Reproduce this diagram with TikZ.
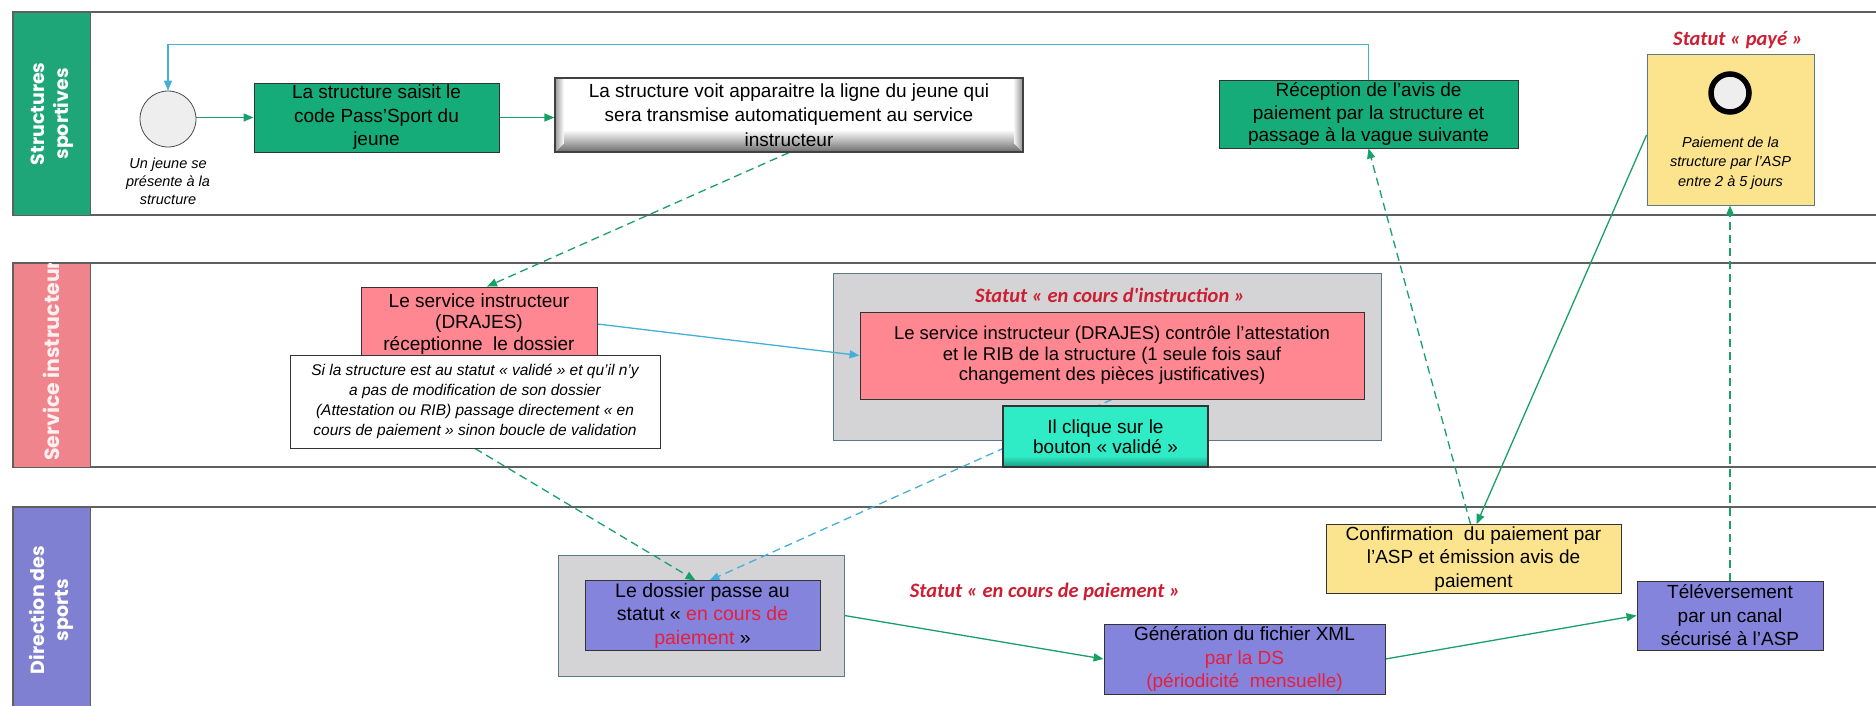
\documentclass[tikz,border=0pt]{standalone}
\usepackage{fontspec}
\setmainfont{Liberation Sans}
\newfontfamily\hdrfont{Poppins}
\newfontfamily\stfont{Carlito}
\usetikzlibrary{arrows.meta,calc}
\definecolor{lanegreen}{RGB}{30,165,120}
\definecolor{boxgreen}{RGB}{22,172,122}
\definecolor{lanepink}{RGB}{240,132,140}
\definecolor{boxpink}{RGB}{255,135,145}
\definecolor{lanepurple}{RGB}{128,128,210}
\definecolor{boxpurple}{RGB}{132,132,220}
\definecolor{boxyellow}{RGB}{252,228,142}
\definecolor{contgray}{RGB}{212,212,214}
\definecolor{contborder}{RGB}{90,120,135}
\definecolor{btncyan}{RGB}{48,236,198}
\definecolor{btndark}{RGB}{20,120,100}
\definecolor{arrgreen}{RGB}{25,160,105}
\definecolor{arrblue}{RGB}{70,175,215}
\definecolor{stred}{RGB}{205,30,50}
\definecolor{txtred}{RGB}{232,30,60}
\definecolor{laneline}{RGB}{95,95,95}
\definecolor{circgray}{RGB}{238,238,238}
\pgfdeclarelayer{lanes}
\pgfdeclarelayer{cont}
\pgfdeclarelayer{conn}
\pgfsetlayers{lanes,cont,conn,main}
\tikzset{
  hdrbox/.style={draw=laneline, line width=0.8pt, anchor=north west, minimum width=77, inner sep=0pt},
  hdr/.style={text=white, font=\hdrfont\bfseries\fontsize{19}{24}\selectfont, align=center, inner sep=0pt},
  box/.style={draw=black!80, line width=0.9pt, align=center, inner sep=2pt, font=\fontsize{19}{23.5}\selectfont},
  gbox/.style={box, fill=boxgreen},
  pbox/.style={box, fill=boxpink},
  vbox/.style={box, fill=boxpurple},
  ybox/.style={box, fill=boxyellow},
  itxt/.style={align=center, inner sep=1pt, font=\itshape\fontsize{14.5}{18}\selectfont},
  st/.style={text=stred, font=\stfont\bfseries\itshape\fontsize{20.5}{24}\selectfont, inner sep=1pt},
  container/.style={draw=contborder, line width=1pt, fill=contgray, inner sep=0pt},
  tip/.style={-{Triangle[length=10pt,width=8pt]}},
  garr/.style={draw=arrgreen, line width=1.3pt, tip},
  gdash/.style={garr, dash pattern=on 8pt off 5pt},
  barr/.style={draw=arrblue, line width=1.3pt, tip},
  bdash/.style={barr, dash pattern=on 8pt off 5pt},
  bevelwhite/.style={path picture={
    \foreach \i [evaluate=\i as \p using 55-2.6*\i] in {0,...,20}
      \fill[black!\p] ([yshift=\i pt]path picture bounding box.south west) rectangle ([yshift=\i pt+1.2pt]path picture bounding box.south east);
    \foreach \i [evaluate=\i as \p using 40-4.5*\i] in {0,...,8}
      \fill[black!\p] ([xshift=\i pt, yshift=\i pt]path picture bounding box.south west) rectangle ([xshift=\i pt+1.2pt]path picture bounding box.north west);
    \foreach \i [evaluate=\i as \p using 40-4.5*\i] in {0,...,8}
      \fill[black!\p] ([xshift=-\i pt, yshift=\i pt]path picture bounding box.south east) rectangle ([xshift=-\i pt-1.2pt]path picture bounding box.north east);
  }},
  bevelcyan/.style={path picture={
    \foreach \i [evaluate=\i as \p using 35+6.5*\i] in {0,...,10}
      \fill[btncyan!\p!btndark] ([yshift=\i pt]path picture bounding box.south west) rectangle ([yshift=\i pt+1.2pt]path picture bounding box.south east);
  }},
}
\begin{document}
\begin{tikzpicture}[x=1pt,y=-1pt]
\useasboundingbox (0,0) rectangle (1876,705);
\begin{pgfonlayer}{lanes}
  \fill[white] (0,0) rectangle (1876,705);
  \draw[laneline, line width=1.2pt] (13,12) rectangle (1895,215);
  \draw[laneline, line width=1.2pt] (13,263) rectangle (1895,467);
  \draw[laneline, line width=1.2pt] (13,507) rectangle (1895,720);
\end{pgfonlayer}
% lane headers
\node[hdrbox, fill=lanegreen, minimum height=203] (h1) at (13,12) {};
\node[hdr, rotate=90] (h1t) at (h1.center) {Structures\\sportives};
\node[hdrbox, fill=lanepink, minimum height=204] (h2) at (13,263) {};
\begin{scope}
  \clip (13,263) rectangle (90,467);
  \node[hdr, rotate=90, anchor=west, text=white!88!lanepink, font=\hdrfont\bfseries\fontsize{20.5}{24}\selectfont] (h2t) at (51.5,461) {Service instructeur};
\end{scope}
\node[hdrbox, fill=lanepurple, minimum height=210] (h3) at (13,507) {};
\node[hdr, rotate=90] (h3t) at (51.5,610) {Direction des\\sports};

% lane 1
\node[circle, draw=black!70, line width=0.8pt, fill=circgray, minimum size=56, inner sep=0pt] (c0) at (168,119) {};
\node[itxt] (c0t) at (168,181) {Un jeune se\\présente à la\\structure};
\node[gbox, minimum width=245, minimum height=69] (b1) at (376.5,117.5) {La structure saisit le\\code Pass'Sport du\\jeune};
\node[box, fill=white, draw=black!75, line width=1.2pt, minimum width=468, minimum height=74,
  font=\fontsize{19}{24.5}\selectfont, bevelwhite] (b2) at (789,115) {La structure voit apparaitre la ligne du jeune qui\\sera transmise automatiquement au service\\instructeur};
\node[gbox, minimum width=299, minimum height=68, font=\fontsize{19}{22.5}\selectfont] (b3) at (1368.5,114) {Réception de l'avis de\\paiement par la structure et\\passage à la vague suivante};
\node[ybox, draw=contborder, minimum width=167, minimum height=151] (y1) at (1730.5,129.5) {};
\node[circle, draw=black, line width=5.5pt, fill=circgray, minimum size=38, inner sep=0pt] (ring) at (1730,93) {};
\node[itxt, font=\itshape\fontsize{14.5}{19.5}\selectfont] (y1t) at (1730.5,163) {Paiement de la\\structure par l'ASP\\entre 2 à 5 jours};
\node[st] (stpaye) at (1738,40) {Statut « payé »};

% lane 2
\node[pbox, minimum width=236, minimum height=74, font=\fontsize{19}{21.5}\selectfont] (p1) at (479,324) {Le service instructeur\\(DRAJES)\\réceptionne\ \ le dossier};
\node[box, fill=white, minimum width=370, minimum height=93, font=\itshape\fontsize{15.5}{20}\selectfont] (note) at (475,401.5) {Si la structure est au statut « validé » et qu'il n'y\\a pas de modification de son dossier\\(Attestation ou RIB) passage directement « en\\cours de paiement » sinon boucle de validation};
\begin{pgfonlayer}{cont}
  \node[container, minimum width=548, minimum height=167] (g1) at (1107,356.5) {};
  \node[container, minimum width=286, minimum height=121] (g2) at (701,615.5) {};
\end{pgfonlayer}
\node[st] (stinstr) at (1110,295) {Statut « en cours d'instruction »};
\node[pbox, minimum width=504, minimum height=87, font=\fontsize{18.5}{20.5}\selectfont] (p2) at (1112,355.5) {Le service instructeur (DRAJES) contrôle l'attestation\\et le RIB de la structure (1 seule fois sauf\\changement des pièces justificatives)};
\node[box, fill=btncyan, draw=black!80, line width=1.1pt, minimum width=205, minimum height=61, font=\fontsize{19}{20.5}\selectfont, bevelcyan] (btn) at (1105.5,436.5) {Il clique sur le\\bouton « validé »};

% lane 3
\node[vbox, minimum width=235, minimum height=69, font=\fontsize{19.5}{23.5}\selectfont] (d1) at (702.5,615.5) {Le dossier passe au\\statut « \textcolor{txtred}{en cours de}\\\textcolor{txtred}{paiement} »};
\node[st] (stpai) at (1045,592) {Statut « en cours de paiement »};
\node[vbox, minimum width=281, minimum height=70] (gen) at (1244.5,659) {Génération du fichier XML\\\textcolor{txtred}{par la DS}\\\textcolor{txtred}{(périodicité\ \ mensuelle)}};
\node[ybox, minimum width=295, minimum height=68] (conf) at (1473.5,559) {Confirmation\ \ du paiement par\\l'ASP et émission avis de\\paiement};
\node[vbox, minimum width=186, minimum height=69, font=\fontsize{19}{23.5}\selectfont] (tele) at (1730,615.5) {Téléversement\\par un canal\\sécurisé à l'ASP};

% connectors
\begin{pgfonlayer}{conn}
  \draw[garr] (c0.east |- b1.west) -- (b1.west);
  \draw[garr] (b1.east) -- (b1.east -| b2.west);
  \draw[barr] (b3.north) -- ++(0,-35) -| (c0.north);
  \draw[gdash] (b2.south) -- ([xshift=8pt]p1.north);
  \draw[barr] (p1.east) -- (p2.west);
  \draw[gdash] (note.south) -- ([xshift=-7pt]d1.north);
  \draw[bdash] (p2.south) -- ([xshift=7pt]d1.north);
  \draw[garr] (g2.east) -- (gen.west);
  \draw[garr] (gen.east) -- (tele.west);
  \draw[gdash] (tele.north) -- (tele.north |- y1.south);
  \draw[garr] ([yshift=-5.5pt]y1.west) -- ([xshift=3pt]conf.north);
  \draw[gdash] ([xshift=-3pt]conf.north) -- (b3.south);
\end{pgfonlayer}
\end{tikzpicture}
\end{document}
